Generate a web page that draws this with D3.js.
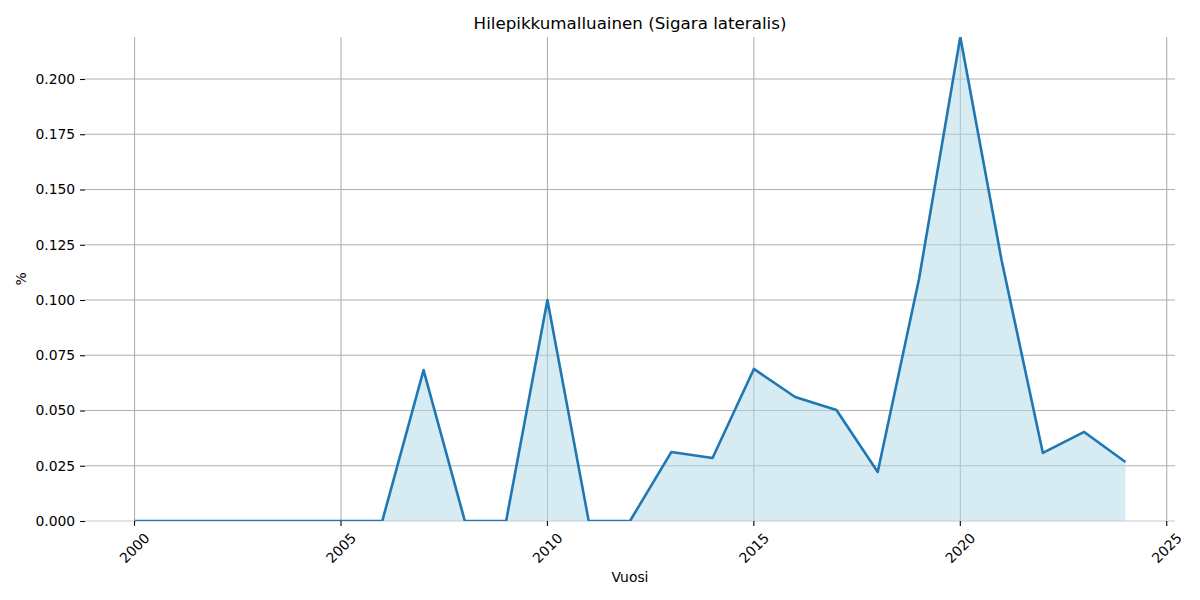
<!DOCTYPE html>
<html>
<head>
<meta charset="utf-8">
<script src="https://cdn.jsdelivr.net/npm/d3@7"></script>
<style>
  html, body { margin: 0; padding: 0; background: #fff; }
  svg { display: block; font-family: "DejaVu Sans", sans-serif; }
</style>
</head>
<body>
<svg id="chart" width="1200" height="600"></svg>
<script>
const years = [2000,2001,2002,2003,2004,2005,2006,2007,2008,2009,2010,2011,2012,2013,2014,2015,2016,2017,2018,2019,2020,2021,2022,2023,2024];
const values = [0,0,0,0,0,0,0,0.0683,0,0,0.1,0,0,0.0312,0.0285,0.0688,0.0561,0.0502,0.0222,0.1095,0.219,0.118,0.0308,0.0403,0.0267];
const xTicks = [2000,2005,2010,2015,2020,2025];
const yTicks = [0,0.025,0.05,0.075,0.1,0.125,0.15,0.175,0.2];
const titleText = "Hilepikkumalluainen (Sigara lateralis)";
const xLabel = "Vuosi";
const yLabel = "%";

const svg = d3.select("#chart");
const mLeft = 85, mRight = 1175, mTop = 37, mBottom = 521;

const x = d3.scaleLinear().domain([1998.8, 2025.2]).range([mLeft, mRight]);
const y = d3.scaleLinear().domain([0, d3.max(values)]).range([mBottom, mTop]);

svg.append("defs").append("clipPath").attr("id", "clip")
  .append("rect").attr("x", mLeft).attr("y", mTop).attr("width", mRight - mLeft).attr("height", mBottom - mTop);

// grid
const grid = svg.append("g");
grid.selectAll("line.h").data(yTicks).join("line")
  .attr("x1", mLeft).attr("x2", mRight)
  .attr("y1", d => y(d)).attr("y2", d => y(d))
  .attr("stroke", "#b0b0b0").attr("stroke-width", 1.1);
grid.selectAll("line.v").data(xTicks).join("line")
  .attr("x1", d => x(d)).attr("x2", d => x(d))
  .attr("y1", mTop).attr("y2", mBottom)
  .attr("stroke", "#b0b0b0").attr("stroke-width", 1.1);

// bottom spine (very light)
svg.append("line").attr("x1", mLeft).attr("x2", mRight).attr("y1", mBottom).attr("y2", mBottom)
  .attr("stroke", "#f0f0f0").attr("stroke-width", 1);

const data = years.map((yr, i) => ({yr, v: values[i]}));

// area
svg.append("path").datum(data)
  .attr("clip-path", "url(#clip)")
  .attr("fill", "#add8e6").attr("fill-opacity", 0.5)
  .attr("d", d3.area().x(d => x(d.yr)).y0(y(0)).y1(d => y(d.v)));

// line
svg.append("path").datum(data)
  .attr("clip-path", "url(#clip)")
  .attr("fill", "none").attr("stroke", "#1f77b4").attr("stroke-width", 2.6)
  .attr("stroke-linejoin", "round")
  .attr("d", d3.line().x(d => x(d.yr)).y(d => y(d.v)));

// y axis
const yAxis = d3.axisLeft(y).tickValues(yTicks).tickFormat(d3.format(".3f")).tickSize(4.9).tickPadding(4.9);
const gy = svg.append("g").attr("transform", `translate(${mLeft},0)`).call(yAxis);
gy.select(".domain").remove();
gy.selectAll(".tick line").attr("stroke", "#000").attr("stroke-width", 1.1);
gy.selectAll(".tick text").attr("font-size", 13.9).attr("fill", "#000")
  .attr("font-family", "DejaVu Sans");

// x axis
const gx = svg.append("g").attr("transform", `translate(0,${mBottom})`);
const xt = gx.selectAll("g.tick").data(xTicks).join("g").attr("transform", d => `translate(${x(d)},0)`);
xt.append("line").attr("y1", 0).attr("y2", 4.9).attr("stroke", "#000").attr("stroke-width", 1.1);
xt.append("text")
  .attr("transform", "translate(0,27) rotate(-45)")
  .attr("text-anchor", "middle").attr("dominant-baseline", "central")
  .attr("font-size", 13.9).attr("fill", "#000")
  .text(d => d);

// title
svg.append("text").attr("x", (mLeft + mRight) / 2).attr("y", 29)
  .attr("text-anchor", "middle").attr("font-size", 16.7).attr("fill", "#000").text(titleText);

// axis labels
svg.append("text").attr("x", (mLeft + mRight) / 2).attr("y", 582)
  .attr("text-anchor", "middle").attr("font-size", 13.9).attr("fill", "#000").text(xLabel);
svg.append("text").attr("transform", `translate(26,${(mTop + mBottom) / 2}) rotate(-90)`)
  .attr("text-anchor", "middle").attr("font-size", 13.9).attr("fill", "#000").text(yLabel);
</script>
</body>
</html>
